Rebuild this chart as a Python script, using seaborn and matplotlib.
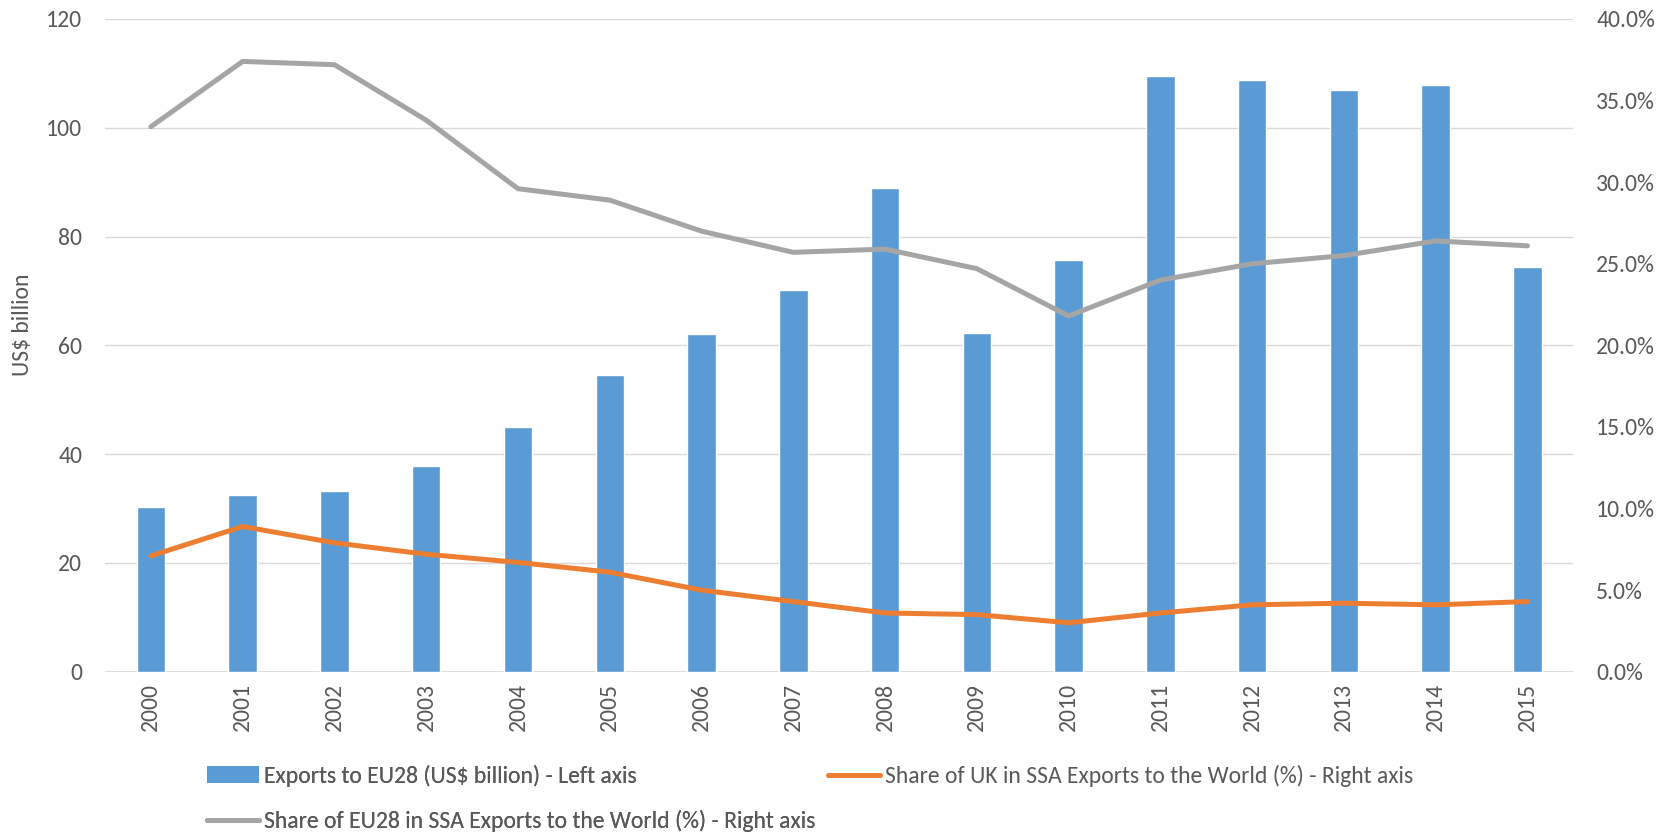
import numpy as np
import pandas as pd
import matplotlib
matplotlib.use("Agg")
import matplotlib.pyplot as plt
from matplotlib.patches import Patch
from matplotlib.lines import Line2D
from matplotlib.ticker import FuncFormatter
import seaborn as sns

years = [str(y) for y in range(2000, 2016)]
exports_eu28 = [30.2, 32.4, 33.3, 37.8, 45.0, 54.6, 62.0, 70.1, 88.9, 62.2,
                75.7, 109.6, 108.8, 106.9, 107.8, 74.4]
share_uk = [7.1, 8.9, 7.9, 7.2, 6.7, 6.1, 5.0, 4.3, 3.6, 3.5,
            3.0, 3.6, 4.1, 4.2, 4.1, 4.3]
share_eu28 = [33.4, 37.4, 37.2, 33.8, 29.6, 28.9, 27.0, 25.7, 25.9, 24.7,
              21.8, 24.0, 25.0, 25.5, 26.4, 26.1]

BLUE = "#5b9bd5"
ORANGE = "#ed7d31"
GREY = "#a5a5a5"
TEXT = "#595959"
GRID = "#d9d9d9"
FS = 17

sns.set_theme(style="white")
plt.rcParams["font.family"] = ["Carlito", "Lato", "DejaVu Sans"]

df = pd.DataFrame({"year": years, "exports": exports_eu28,
                   "uk": share_uk, "eu28": share_eu28})
df["pos"] = np.arange(len(years))

fig = plt.figure(figsize=(16.75, 8.33), dpi=100)
ax = fig.add_axes([0.0627, 0.1936, 0.8766, 0.7836])

# bars on the left axis (US$ billion)
sns.barplot(data=df, x="year", y="exports", color=BLUE, width=0.31,
            saturation=1, ax=ax, zorder=2)
ax.set_ylim(0, 120)
ax.set_xlim(-0.5, len(years) - 0.5)
ax.set_yticks(np.arange(0, 121, 20))
ax.yaxis.grid(True, color=GRID, linewidth=1.0, zorder=0)
ax.set_axisbelow(True)
for s in ax.spines.values():
    s.set_visible(False)
ax.set_xlabel("")
ax.set_ylabel("")
ax.tick_params(axis="y", length=0, pad=16.5, labelsize=FS, labelcolor=TEXT)
ax.tick_params(axis="x", length=0, pad=8, labelsize=FS, labelcolor=TEXT,
               labelrotation=90)
ax.axhline(0, color=GRID, linewidth=1.2, zorder=1)

# shares on the right axis (%)
ax2 = ax.twinx()
sns.lineplot(data=df, x="pos", y="eu28", color=GREY, linewidth=3.6, ax=ax2,
             solid_capstyle="round", solid_joinstyle="round")
sns.lineplot(data=df, x="pos", y="uk", color=ORANGE, linewidth=3.6, ax=ax2,
             solid_capstyle="round", solid_joinstyle="round")
ax2.set_ylim(0, 40)
ax2.set_yticks(np.arange(0, 41, 5))
ax2.yaxis.set_major_formatter(FuncFormatter(lambda v, p: f"{v:.1f}%"))
ax2.set_xlim(-0.5, len(years) - 0.5)
ax2.set_ylabel("")
ax2.set_xlabel("")
ax2.grid(False)
for s in ax2.spines.values():
    s.set_visible(False)
ax2.tick_params(axis="y", length=0, pad=16.5, labelsize=FS, labelcolor=TEXT)

fig.text(0.0137, 0.61, "US$ billion", rotation=90, ha="center", va="center",
         fontsize=FS, color=TEXT)

# legend: left column (bar + EU28 share), right column (UK share)
leg_kw = dict(frameon=False, fontsize=FS, labelcolor=TEXT, handlelength=2.2,
              handletextpad=0.22, borderaxespad=0, borderpad=0,
              loc="center left")
leg1 = fig.legend(
    [Patch(facecolor=BLUE, edgecolor="none"),
     Line2D([], [], color=GREY, linewidth=3.6, solid_capstyle="round")],
    ["Exports to EU28 (US$ billion) - Left axis",
     "Share of EU28 in SSA Exports to the World (%) - Right axis"],
    bbox_to_anchor=(0.1236, 0.0415), labelspacing=1.0, **leg_kw)
leg2 = fig.legend(
    [Line2D([], [], color=ORANGE, linewidth=3.6, solid_capstyle="round")],
    ["Share of UK in SSA Exports to the World (%) - Right axis"],
    bbox_to_anchor=(0.4943, 0.0684), **leg_kw)
fig.add_artist(leg1)

fig.savefig("out.png", dpi=100, facecolor="white")
